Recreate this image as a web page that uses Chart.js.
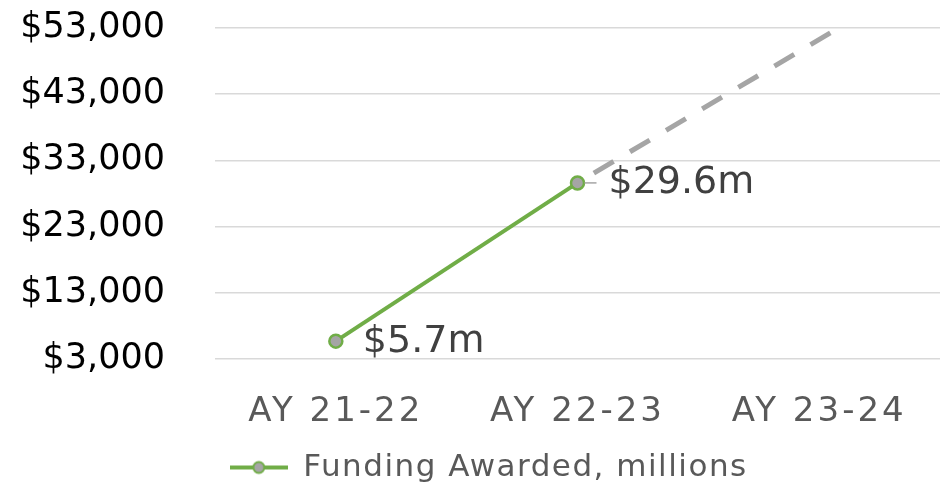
<!DOCTYPE html>
<html>
<head>
<meta charset="utf-8">
<script src="https://cdn.jsdelivr.net/npm/chart.js@4.4.1/dist/chart.umd.min.js"></script>
<style>
  html, body { margin: 0; padding: 0; background: #fff; }
  #wrap { width: 940px; height: 483px; }
</style>
</head>
<body>
<div id="wrap"><canvas id="grafico"></canvas></div>
<script>
const categorias = ["AY 21-22", "AY 22-23", "AY 23-24"];
const fundingX = [1, 2];
const funding = [5700, 29600];
const projecaoX = [2, 3.08];
const projecao = [29600, 53000];
const yMin = 3000;
const yMax = 53000;
const yStep = 10000;

const FONTE = "'DejaVu Sans', sans-serif";
const VERDE = "#70ad47";
const CINZA = "#a5a5a5";

// marcador da legenda: linha verde com circulo cinza
function marcadorLegenda() {
  const c = document.createElement("canvas");
  c.width = 58;
  c.height = 16;
  const ctx = c.getContext("2d");
  ctx.strokeStyle = VERDE;
  ctx.lineWidth = 4;
  ctx.beginPath();
  ctx.moveTo(0, 8);
  ctx.lineTo(58, 8);
  ctx.stroke();
  ctx.beginPath();
  ctx.arc(29, 8, 5.5, 0, Math.PI * 2);
  ctx.fillStyle = CINZA;
  ctx.fill();
  ctx.lineWidth = 2;
  ctx.stroke();
  return c;
}

// a fonte original e mais larga: espaco entre letras nos rotulos do eixo x e na legenda
function comEspaco(chart, alvo, espaco) {
  if (!alvo || alvo._comEspaco) return;
  const nome = alvo === chart.legend ? "draw" : "drawLabels";
  const orig = alvo[nome].bind(alvo);
  alvo[nome] = (...args) => {
    chart.ctx.save();
    chart.ctx.letterSpacing = espaco;
    orig(...args);
    chart.ctx.restore();
  };
  alvo._comEspaco = true;
}

const espacamento = {
  id: "espacamento",
  afterLayout(chart) {
    comEspaco(chart, chart.scales.x, "3px");
    comEspaco(chart, chart.legend, "1.5px");
  },
};

const rotulos = {
  id: "rotulos",
  afterDatasetsDraw(chart) {
    const meta = chart.getDatasetMeta(0);
    const ctx = chart.ctx;
    ctx.save();
    ctx.font = "38px " + FONTE;
    ctx.fillStyle = "#404040";
    ctx.textBaseline = "middle";
    ctx.textAlign = "left";
    meta.data.forEach((p, i) => {
      const txt = "$" + (funding[i] / 1000).toFixed(1) + "m";
      if (i === 1) {
        ctx.strokeStyle = CINZA;
        ctx.lineWidth = 1.5;
        ctx.beginPath();
        ctx.moveTo(p.x + 7, p.y);
        ctx.lineTo(p.x + 19, p.y);
        ctx.stroke();
        ctx.fillText(txt, p.x + 31, p.y);
      } else {
        ctx.fillText(txt, p.x + 27, p.y + 1);
      }
    });
    ctx.restore();
  },
};

new Chart(document.getElementById("grafico"), {
  type: "line",
  data: {
    datasets: [
      {
        label: "Funding Awarded, millions",
        data: funding.map((v, i) => ({ x: fundingX[i], y: v })),
        borderColor: VERDE,
        borderWidth: 4,
        pointRadius: 6.5,
        pointBackgroundColor: CINZA,
        pointBorderColor: VERDE,
        pointBorderWidth: 2.5,
        order: 1,
      },
      {
        label: "Projection",
        data: projecao.map((v, i) => ({ x: projecaoX[i], y: v })),
        borderColor: CINZA,
        borderWidth: 5,
        borderDash: [23, 19],
        borderDashOffset: 23,
        pointRadius: 0,
        order: 2,
      },
    ],
  },
  options: {
    responsive: true,
    maintainAspectRatio: false,
    animation: false,
    layout: { autoPadding: false, padding: { top: 28, right: 0, bottom: -10, left: 0 } },
    scales: {
      x: {
        type: "linear",
        min: 0.5,
        max: 3.5,
        grid: { display: false },
        border: { display: false },
        afterBuildTicks: (scale) => {
          scale.ticks = categorias.map((c, i) => ({ value: i + 1 }));
        },
        afterFit: (scale) => {
          scale.paddingLeft = 0;
          scale.paddingRight = 0;
          scale.height = 91;
        },
        ticks: {
          autoSkip: false,
          maxRotation: 0,
          padding: 25,
          color: "#595959",
          font: { family: FONTE, size: 34 },
          callback: (v) => categorias[Math.round(v) - 1],
        },
      },
      y: {
        min: yMin,
        max: yMax,
        afterFit: (scale) => {
          scale.width = 215;
          scale.paddingTop = 0;
          scale.paddingBottom = 0;
        },
        grid: { color: "#d9d9d9", lineWidth: 1.5, drawTicks: false },
        border: { display: false },
        ticks: {
          stepSize: yStep,
          padding: 50,
          color: "#000000",
          font: { family: FONTE, size: 35 },
          callback: (v) => "$" + v.toLocaleString("en-US"),
        },
      },
    },
    plugins: {
      tooltip: { enabled: false },
      legend: {
        position: "bottom",
        labels: {
          color: "#595959",
          font: { family: FONTE, size: 31 },
          usePointStyle: true,
          pointStyleWidth: 58,
          padding: 2,
          filter: (item) => item.datasetIndex === 0,
          generateLabels: (chart) => {
            const itens = Chart.defaults.plugins.legend.labels.generateLabels(chart);
            itens.forEach((it) => {
              it.pointStyle = marcadorLegenda();
            });
            return itens;
          },
        },
      },
    },
  },
  plugins: [espacamento, rotulos],
});
</script>
</body>
</html>
